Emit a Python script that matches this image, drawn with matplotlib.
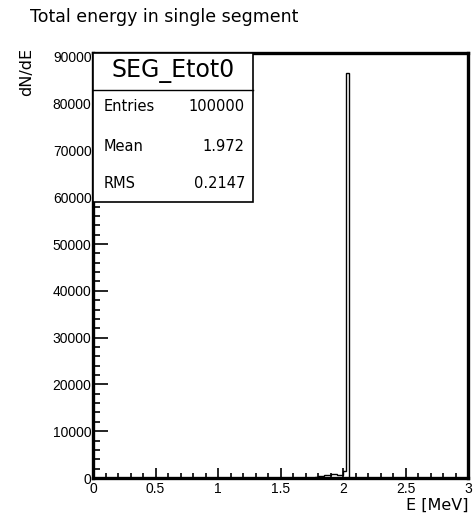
import numpy as np
import matplotlib
matplotlib.use("Agg")
import matplotlib.pyplot as plt
from matplotlib.ticker import MultipleLocator
from matplotlib.patches import Rectangle

# Histogram binning (E in MeV)
n_bins = 120
e_min, e_max = 0.0, 3.0

# Non-empty bins: lower edge of bin and counts
bin_low = [1.775, 1.8, 1.825, 1.85, 1.875, 1.9, 1.925, 1.95, 1.975, 2.0, 2.025]
bin_counts = [250, 400, 500, 550, 650, 750, 800, 700, 600, 1500, 86500]

# Stats box
hist_name = "SEG_Etot0"
stat_labels = ["Entries", "Mean", "RMS"]
stat_values = ["100000", "1.972", "0.2147"]

edges = np.linspace(e_min, e_max, n_bins + 1)
counts = np.zeros(n_bins)
for lo, c in zip(bin_low, bin_counts):
    counts[int(round((lo - e_min) / (e_max - e_min) * n_bins))] = c

fig = plt.figure(figsize=(4.73, 5.26), dpi=100)
ax = fig.add_axes([93 / 473, 48 / 526, 375 / 473, 425 / 526])

ax.stairs(counts, edges, color="black", lw=1.0)
ax.set_xlim(e_min, e_max)
ax.set_ylim(0, 1.05 * max(bin_counts))

for s in ax.spines.values():
    s.set_linewidth(2.4)

ax.xaxis.set_major_locator(MultipleLocator(0.5))
ax.xaxis.set_minor_locator(MultipleLocator(0.1))
ax.yaxis.set_major_locator(MultipleLocator(10000))
ax.yaxis.set_minor_locator(MultipleLocator(2000))
ax.tick_params(which="both", direction="in", width=1.2, top=False, right=False,
               labelsize=10)
ax.tick_params(axis="x", which="major", length=7, pad=3)
ax.tick_params(axis="x", which="minor", length=3.5)
ax.tick_params(axis="y", which="major", length=11, pad=1)
ax.tick_params(axis="y", which="minor", length=5)
ax.set_xticks([0, 0.5, 1, 1.5, 2, 2.5, 3])
ax.set_xticklabels(["0", "0.5", "1", "1.5", "2", "2.5", "3"])
for lbl in ax.get_xticklabels() + ax.get_yticklabels():
    lbl.set_family("Liberation Sans")

fig.text(30 / 473, 1 - 17 / 526, "Total energy in single segment",
         fontsize=12.5, family="DejaVu Sans", ha="left", va="center")
fig.text(468 / 473, 1 - 505 / 526, "E [MeV]", fontsize=11.5,
         family="DejaVu Sans", ha="right", va="center")
fig.text(27 / 473, 1 - 48 / 526, "dN/dE", fontsize=11.5, rotation=90,
         family="DejaVu Sans", ha="center", va="top")

# Stats box in the top-left corner
box_l, box_r = 0.0, 0.4267
box_b, box_t, box_div = 0.649, 1.0, 0.913
ax.add_patch(Rectangle((box_l, box_b), box_r - box_l, box_t - box_b,
                       transform=ax.transAxes, facecolor="white",
                       edgecolor="black", lw=1.2, zorder=5, clip_on=False))
ax.plot([box_l, box_r], [box_div, box_div], transform=ax.transAxes,
        color="black", lw=1.0, zorder=6, clip_on=False)
ax.text((box_l + box_r) / 2, 0.957, hist_name, transform=ax.transAxes,
        fontsize=17, family="DejaVu Sans", ha="center", va="center", zorder=7)
for lab, val, y in zip(stat_labels, stat_values, [0.873, 0.781, 0.694]):
    ax.text(0.027, y, lab, transform=ax.transAxes, fontsize=10.5,
            family="DejaVu Sans", ha="left", va="center", zorder=7)
    ax.text(0.405, y, val, transform=ax.transAxes, fontsize=10.5,
            family="DejaVu Sans", ha="right", va="center", zorder=7)

fig.savefig("out.png", dpi=100)
